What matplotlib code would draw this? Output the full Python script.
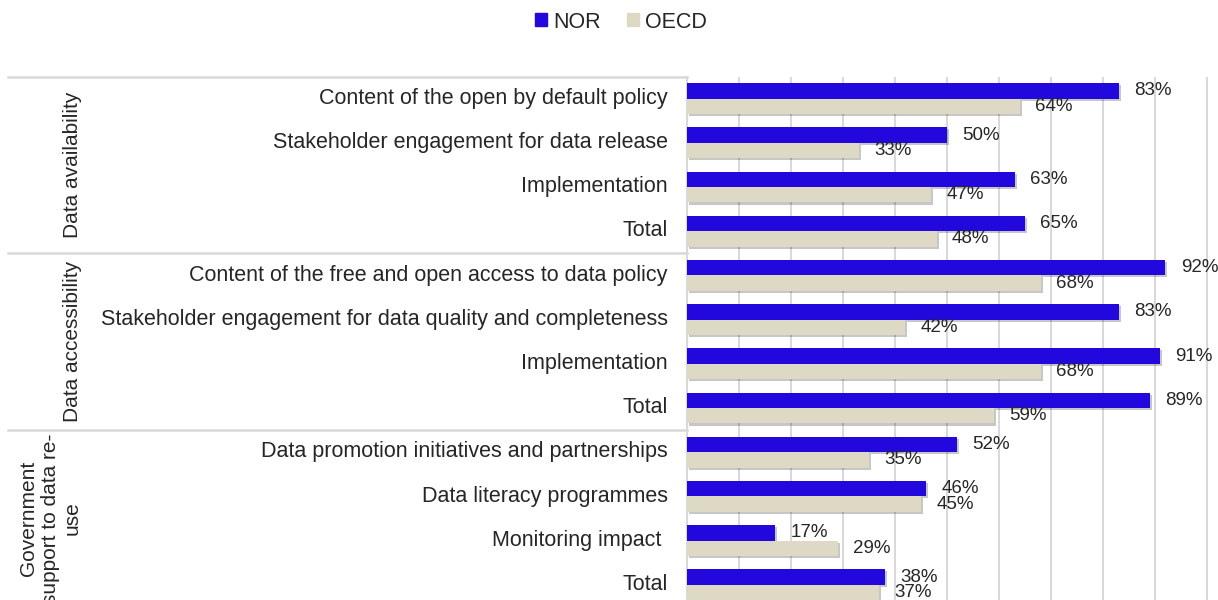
import numpy as np
import matplotlib
matplotlib.use("Agg")
import matplotlib.pyplot as plt
import matplotlib.patheffects as pe
import matplotlib.transforms as mtransforms
from matplotlib.patches import Patch

plt.rcParams["font.family"] = ["Liberation Sans", "DejaVu Sans"]

# Data
sections = ["Data availability", "Data accessibility", "Government\nsupport to data re-\nuse"]
categories = [
    "Content of the open by default policy",
    "Stakeholder engagement for data release",
    "Implementation",
    "Total",
    "Content of the free and open access to data policy",
    "Stakeholder engagement for data quality and completeness",
    "Implementation",
    "Total",
    "Data promotion initiatives and partnerships",
    "Data literacy programmes",
    "Monitoring impact ",
    "Total",
]
nor_vals = [83, 50, 63, 65, 92, 83, 91, 89, 52, 46, 17, 38]
oecd_vals = [64, 33, 47, 48, 68, 42, 68, 59, 35, 45, 29, 37]
series_names = ["NOR", "OECD"]

NOR_COLOR = "#2208DD"
OECD_COLOR = "#DDD9C4"
GRID_COLOR = "#D9D9D9"
TEXT_COLOR = "#262626"
FS_CAT = 15.5
FS_VAL = 13.5
FS_LEG = 15.5

W, H = 1218, 600
fig = plt.figure(figsize=(W / 100, H / 100), dpi=100)

# axes placement in pixels
x0_px, top_px = 687, 76.5
ax = fig.add_axes([x0_px / W, 0, 1 - x0_px / W, 1 - top_px / H])

n = len(categories)
y = np.arange(n)
bh = 0.35
shadow = [pe.SimplePatchShadow(offset=(1.5, -1.5), shadow_rgbFace="k", alpha=0.22), pe.Normal()]
b1 = ax.barh(y - bh / 2, nor_vals, height=bh, color=NOR_COLOR, zorder=3)
b2 = ax.barh(y + bh / 2, oecd_vals, height=bh, color=OECD_COLOR, zorder=3)
for b in list(b1) + list(b2):
    b.set_path_effects(shadow)

# value labels
for yi, v in zip(y, nor_vals):
    ax.annotate(f"{v}%", (v, yi - bh / 2), xytext=(11, 0), textcoords="offset points",
                ha="left", va="center", fontsize=FS_VAL, color=TEXT_COLOR, annotation_clip=False)
for yi, v in zip(y, oecd_vals):
    ax.annotate(f"{v}%", (v, yi + bh / 2), xytext=(11, 0), textcoords="offset points",
                ha="left", va="center", fontsize=FS_VAL, color=TEXT_COLOR, annotation_clip=False)

px_per_pct = 5.2
ax.set_xlim(0, (W - x0_px) / px_per_pct)
ax.set_ylim((H - 98.6) / 44.2, -0.5)
ax.set_xticks(np.arange(10, 101, 10))
ax.tick_params(axis="x", length=0, labelbottom=False)
ax.grid(axis="x", color=GRID_COLOR, lw=1.5, zorder=0)
ax.set_yticks(y)
ax.set_yticklabels(categories, fontsize=FS_CAT, color=TEXT_COLOR)
ax.tick_params(axis="y", length=0, pad=14)
up = mtransforms.ScaledTranslation(0, 2 / 72, fig.dpi_scale_trans)
for lab in ax.get_yticklabels():
    lab.set_transform(lab.get_transform() + up)
for s in ["top", "right", "bottom"]:
    ax.spines[s].set_visible(False)
ax.spines["left"].set_color(GRID_COLOR)
ax.spines["left"].set_linewidth(1.5)

# section separators and labels
trans = ax.get_yaxis_transform()
left_ax = (8 - x0_px) / (W - x0_px)
lab_ax = (82 - x0_px) / (W - x0_px)
for k, name in enumerate(sections):
    b = 4 * k - 0.5
    ax.plot([left_ax, 0], [b, b], transform=trans, clip_on=False, color=GRID_COLOR, lw=1.8)
    ax.text(lab_ax, 4 * k + 1.5, name, transform=trans, rotation=90, ha="right", va="center",
            multialignment="center", fontsize=15, color=TEXT_COLOR)

handles = [Patch(color=NOR_COLOR), Patch(color=OECD_COLOR)]
fig.legend(handles, series_names, loc="center", bbox_to_anchor=(621 / W, 1 - 22 / H),
           ncol=2, frameon=False, fontsize=FS_LEG, handlelength=0.55, handleheight=0.55,
           handletextpad=0.3, columnspacing=1.2, labelcolor=TEXT_COLOR)

fig.savefig("out.png", dpi=100)
